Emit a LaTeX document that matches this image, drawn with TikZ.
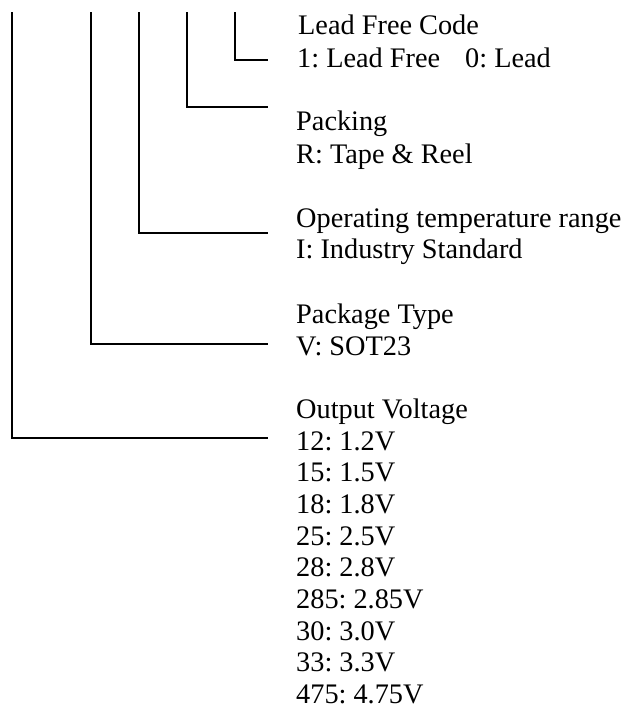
\documentclass[tikz,border=0pt]{standalone}
\usepackage{fontspec}
\setmainfont{Liberation Serif}
\frenchspacing
\begin{document}
\begin{tikzpicture}[x=1pt,y=-1pt,
  lbl/.style={anchor=base west, inner sep=0pt, text depth=0pt, font=\fontsize{28.3}{32}\selectfont},
  conn/.style={line width=1.3pt, line cap=rect}]
\useasboundingbox (0,0) rectangle (624,709);
% labels
\node[lbl] (lf)  at (298,35)  {Lead Free Code};
\node[lbl] (lf1) at (297,67)  {1: Lead Free};
\node[lbl] (lf0) at (465,67)  {0: Lead};
\node[lbl] (pk)  at (296,130) {Packing};
\node[lbl] (pk1) at (296,163) {R: Tape \& Reel};
\node[lbl] (ot)  at (296,227) {Operating temperature range};
\node[lbl] (ot1) at (296,258) {I: Industry Standard};
\node[lbl] (pt)  at (296,323) {Package Type};
\node[lbl] (pt1) at (296,355) {V: SOT23};
\node[lbl] (ov)  at (296,418) {Output Voltage};
\foreach \t [count=\i from 0] in {12: 1.2V,15: 1.5V,18: 1.8V,25: 2.5V,28: 2.8V,285: 2.85V,30: 3.0V,33: 3.3V,475: 4.75V}
  \node[lbl] (v\i) at (296,{450+31.7*\i}) {\t};
% connector ends
\coordinate (t1) at (235,13);  \coordinate (e1) at (267,60);
\coordinate (t2) at (187,13);  \coordinate (e2) at (267,107);
\coordinate (t3) at (139,13);  \coordinate (e3) at (267,233);
\coordinate (t4) at (91,13);   \coordinate (e4) at (267,344);
\coordinate (t5) at (12,13);   \coordinate (e5) at (267,438);
\draw[conn] (t1) |- (e1);
\draw[conn] (t2) |- (e2);
\draw[conn] (t3) |- (e3);
\draw[conn] (t4) |- (e4);
\draw[conn] (t5) |- (e5);
\end{tikzpicture}
\end{document}
